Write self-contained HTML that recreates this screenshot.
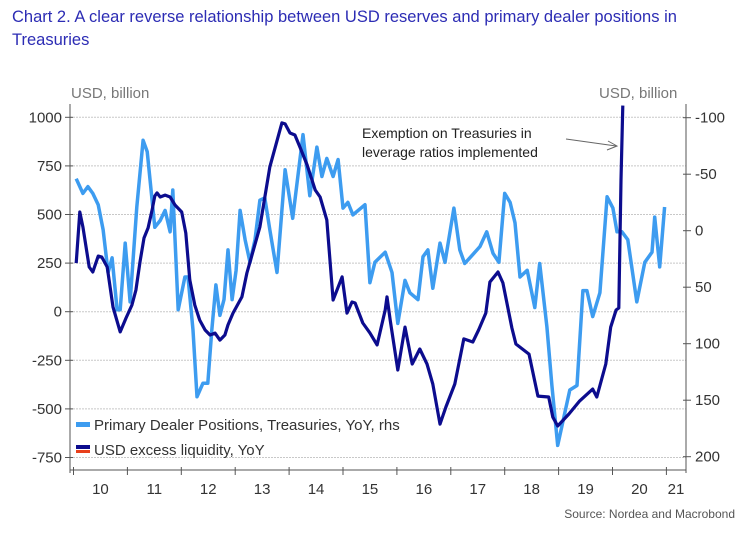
<!DOCTYPE html>
<html><head><meta charset="utf-8"><style>
body{margin:0;background:#fff;width:750px;height:534px;overflow:hidden;font-family:"Liberation Sans",sans-serif}
.t{position:absolute;left:12px;top:6px;color:#2c2cb4;font-size:16.5px;line-height:23px;width:730px}
</style></head><body>
<div class="t">Chart 2. A clear reverse relationship between USD reserves and primary dealer positions in Treasuries</div>
<svg width="750" height="534" style="position:absolute;left:0;top:0" id="chart"></svg>
<script>
const darkMonths=[0.6,1.4,2.1,3.5,4.3,5.5,6.3,7.5,8.8,10.4,11.7,13.0,13.9,14.8,15.7,16.6,17.5,18.1,18.6,19.3,20.4,21.5,22.6,24.1,25.0,25.9,27.0,28.1,29.3,30.4,31.5,32.6,33.7,34.4,35.5,37.5,38.6,41.5,43.7,46.4,47.1,48.2,49.3,50.4,52.0,53.8,54.9,56.4,57.8,59.8,60.9,62.0,62.7,64.4,66.0,67.6,69.4,69.8,70.5,72.2,73.8,75.4,77.1,78.7,80.0,81.6,82.9,84.9,86.9,88.9,90.2,91.8,92.7,94.5,95.6,97.6,98.5,101.4,103.4,105.8,106.7,107.8,110.3,112.7,115.6,116.5,118.5,119.6,120.8,121.4,121.9,122.3];
const darkValues=[250,513,436,230,204,286,281,230,24,-104,-32,34,111,256,379,431,523,595,611,590,600,590,549,513,405,163,34,-43,-94,-120,-110,-146,-120,-68,-7,76,199,436,744,971,966,919,909,847,755,626,590,472,60,179,-7,50,45,-58,-109,-171,9,76,-43,-300,-79,-269,-192,-269,-372,-578,-490,-372,-140,-156,-94,-7,153,204,148,-84,-166,-218,-434,-439,-542,-588,-526,-459,-398,-439,-269,-79,9,19,677,1060];
const lightMonths=[0.6,2.1,3.2,4.3,5.5,6.6,7.7,8.6,9.7,10.4,11.5,12.6,14.1,15.5,16.4,18.1,19.3,20.4,21.5,22.1,23.3,24.8,25.5,26.6,27.5,28.8,29.9,30.8,31.7,32.6,33.5,34.4,35.3,36.2,37.1,38.2,39.3,40.4,41.5,42.6,43.7,45.3,47.1,48.8,51.1,52.6,54.2,55.3,56.4,57.8,58.9,60.0,61.1,62.2,64.9,66.0,67.1,69.4,70.9,72.2,73.8,74.9,76.7,77.8,78.9,80.0,81.6,82.7,84.7,86.0,87.1,88.7,90.5,92.0,93.4,94.7,96.0,97.2,98.3,99.4,101.0,102.7,103.8,105.4,106.5,107.8,110.5,112.1,113.4,114.3,115.6,117.2,118.8,120.1,121.0,122.1,123.4,125.4,127.2,128.8,129.4,130.5,131.6];
const lightValues=[-46,-33,-39,-33,-23,-1,37,24,70,70,11,63,-21,-80,-70,-3,-9,-18,1,-36,70,41,41,88,147,135,135,88,48,75,61,17,61,35,-18,8,28,8,-27,-29,-1,37,-54,-11,-85,-31,-74,-48,-64,-48,-63,-20,-25,-14,-23,46,28,19,37,82,44,55,61,23,17,51,11,28,-20,17,29,22,14,1,20,28,-33,-25,-7,41,35,68,29,85,137,190,141,137,53,53,76,55,-30,-20,1,1,8,63,28,19,-12,32,-21];
const leftTicks=[1000,750,500,250,0,-250,-500,-750];
const rightTicks=[-100,-50,0,50,100,150,200];
const yearLabels=["10","11","12","13","14","15","16","17","18","19","20","21"];

const svg=document.getElementById('chart');const NS='http://www.w3.org/2000/svg';
const X0=70,X1=686,YT=104,YB=470;
const xS=m=>73.5+m*53.9/12;
const yL=v=>311.7-v*48.6/250;
const yR=v=>230.7+v*1.13;
function mk(t,a,p){const e=document.createElementNS(NS,t);for(const k in a)e.setAttribute(k,a[k]);(p||svg).appendChild(e);return e;}
const cp=mk('clipPath',{id:'cp'});mk('rect',{x:X0,y:YT,width:X1-X0,height:YB-YT},cp);
leftTicks.forEach(v=>{const y=yL(v);
 const g=mk('line',{x1:X0,x2:X1,y1:y,y2:y,stroke:'#c8c8c8','stroke-width':1,'stroke-dasharray':'2,1'});
 
 
 mk('line',{x1:X0-5,x2:X0+3,y1:y,y2:y,stroke:'#555'});
 const t=mk('text',{x:X0-8,y:y+5,'text-anchor':'end','font-size':15,fill:'#333'});t.textContent=v;
 
 
});
rightTicks.forEach(v=>{const y=yR(v);
 mk('line',{x1:X1-3,x2:X1+5,y1:y,y2:y,stroke:'#555'});
 const t=mk('text',{x:X1+9,y:y+5,'font-size':15,fill:'#333'});t.textContent=v;
 
 
});
mk('line',{x1:X0,x2:X0,y1:YT,y2:YB+3,stroke:'#555'});
mk('line',{x1:X1,x2:X1,y1:YT,y2:YB+3,stroke:'#555'});
mk('line',{x1:X0,x2:X1,y1:YB,y2:YB,stroke:'#555'});
yearLabels.forEach((l,i)=>{const xa=xS(i*12);
 mk('line',{x1:xa,x2:xa,y1:YB-3,y2:YB+5,stroke:'#555'});
 const t=mk('text',{x:Math.min(xS(i*12+6),676),y:494,'text-anchor':'middle','font-size':15,fill:'#333'});t.textContent=l;
 
 
});
function line(ms,vs,ys,col,name,w){const d=ms.map((m,i)=>(i?'L':'M')+xS(m).toFixed(1)+','+ys(vs[i]).toFixed(1)).join('');
 const p=mk('path',{d:d,fill:'none',stroke:col,'stroke-width':w,'stroke-linejoin':'round','clip-path':'url(#cp)'});
 
 }
line(lightMonths,lightValues,yR,'#3d9cf0','primary-dealer-line',3.5);
line(darkMonths,darkValues,yL,'#0c0c8e','usd-liquidity-line',3.2);
function txt(x,y,s,sz,fill,name,anchor){const t=mk('text',{x:x,y:y,'font-size':sz,fill:fill,'text-anchor':anchor||'start'});t.textContent=s;
 
 return t;}
txt(71,98,'USD, billion',15,'#777','left-axis-title');
txt(599,98,'USD, billion',15,'#777','right-axis-title');
txt(362,138,'Exemption on Treasuries in',14,'#222','annotation-line1');
txt(362,157,'leverage ratios implemented',14,'#222','annotation-line2');
mk('line',{x1:566,y1:139,x2:616,y2:146,stroke:'#666','stroke-width':1});
mk('path',{d:'M608,141 L617,146 L607,150',fill:'none',stroke:'#666','stroke-width':1});
mk('rect',{x:76,y:422,width:14,height:5,fill:'#3d9cf0'});
txt(94,430,'Primary Dealer Positions, Treasuries, YoY, rhs',15,'#333','legend-primary-dealer');
mk('rect',{x:76,y:445,width:14,height:4,fill:'#0c0c8e'});
mk('rect',{x:76,y:450,width:14,height:3,fill:'#e8401c'});
txt(94,455,'USD excess liquidity, YoY',15,'#333','legend-usd-liquidity');
txt(735,518,'Source: Nordea and Macrobond',12,'#555','source-note','end');
</script>
</body></html>
